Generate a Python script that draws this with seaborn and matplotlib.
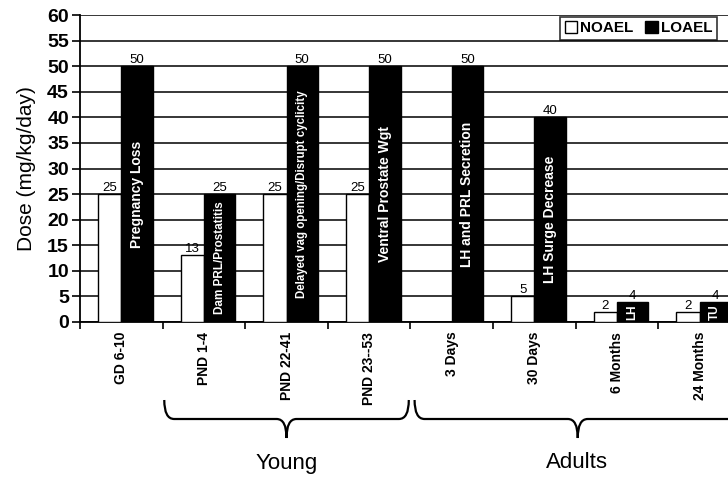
import numpy as np
import pandas as pd
import matplotlib
matplotlib.use("Agg")
import matplotlib.pyplot as plt
import seaborn as sns
from matplotlib.path import Path
from matplotlib.patches import PathPatch, Patch
from matplotlib.transforms import blended_transform_factory

categories = ["GD 6-10", "PND 1-4", "PND 22-41", "PND 23--53",
              "3 Days", "30 Days", "6 Months", "24 Months"]
noael = [25, 13, 25, 25, 0, 5, 2, 2]
loael = [50, 25, 50, 50, 50, 40, 4, 4]
noael_labels = ["25", "13", "25", "25", "", "5", "2", "2"]
loael_labels = ["50", "25", "50", "50", "50", "40", "4", "4"]
effects = ["Pregnancy Loss", "Dam PRL/Prostatitis",
           "Delayed vag opening/Disrupt cyclicity", "Ventral Prostate Wgt",
           "LH and PRL Secretion", "LH Surge Decrease", "LH", "TU"]
series = ["NOAEL", "LOAEL"]

sns.set_theme(style="white")
plt.rcParams["font.family"] = ["Liberation Sans", "DejaVu Sans"]
plt.rcParams.update({"text.color": "black", "axes.labelcolor": "black",
                     "xtick.color": "black", "ytick.color": "black"})

df = pd.DataFrame({
    "Stage": categories * 2,
    "Dose": noael + loael,
    "Level": ["NOAEL"] * len(categories) + ["LOAEL"] * len(categories),
})

fig = plt.figure(figsize=(7.28, 4.8), dpi=100)
ax = fig.add_axes([80 / 728, 1 - 322 / 480, 1 - 80 / 728 + 0.02, (322 - 15) / 480])

sns.barplot(data=df, x="Stage", y="Dose", hue="Level", order=categories,
            hue_order=series, palette={"NOAEL": "white", "LOAEL": "black"},
            width=0.68, edgecolor="black", linewidth=1.0, ax=ax, legend=False,
            zorder=3)

# NOAEL bars narrower than LOAEL bars, as in the reference
cont_no, cont_lo = ax.containers[0], ax.containers[1]
for b in cont_no:
    x0 = b.get_x()
    w = b.get_width()
    b.set_x(x0 + 0.06)
    b.set_width(w - 0.06)
for b in cont_lo:
    b.set_width(b.get_width() + 0.04)

ax.set_ylim(0, 60)
ax.set_xlim(-0.5, len(categories) - 0.5 + 0.02)
ax.set_yticks(np.arange(0, 61, 5))
ax.yaxis.grid(True, color="black", linewidth=1.1, zorder=0)
ax.xaxis.grid(False)
for s in ["top", "right"]:
    ax.spines[s].set_visible(False)
ax.spines["left"].set_color("black")
ax.spines["left"].set_linewidth(1.3)
ax.spines["bottom"].set_color("black")
ax.spines["bottom"].set_linewidth(1.3)

ax.tick_params(axis="y", length=6, width=1.2, color="black", direction="out",
               left=True, labelsize=14, pad=2)
for t in ax.get_yticklabels():
    t.set_fontweight("bold")
ax.set_ylabel("Dose (mg/kg/day)", fontsize=15, labelpad=8)
ax.set_xlabel("")
ax.set_xticks(range(len(categories)))
ax.set_xticklabels(categories, rotation=90, fontsize=10, fontweight="bold",
                   va="top")
ax.tick_params(axis="x", length=0, pad=7)
ax.set_xticks(np.arange(-0.5, len(categories), 1.0), minor=True)
ax.tick_params(axis="x", which="minor", length=5, width=1.2, color="black",
               bottom=True)

# value labels and effect labels
ax.bar_label(cont_no, labels=noael_labels, fontsize=9.5, padding=0)
ax.bar_label(cont_lo, labels=loael_labels, fontsize=9.5, padding=0)
for bar, txt, v in zip(cont_lo, effects, loael):
    cx = bar.get_x() + bar.get_width() / 2
    fs = 10 if v >= 30 else 8.5
    if len(txt) > 30:
        fs = 8.3
    ax.text(cx, v / 2, txt, rotation=90, ha="center", va="center",
            color="white", fontweight="bold", fontsize=fs, zorder=5)

# legend
handles = [Patch(facecolor="white", edgecolor="black", label="NOAEL"),
           Patch(facecolor="black", edgecolor="black", label="LOAEL")]
leg = ax.legend(handles=handles, loc="upper left",
                bbox_to_anchor=((542 - 80) / 648, (322 - 9) / 307), ncol=2,
                frameon=True, fancybox=False, edgecolor="black",
                handlelength=0.8, handleheight=0.8, handletextpad=0.2,
                columnspacing=0.8, borderpad=0.3,
                prop={"weight": "bold", "size": 11})
leg.get_frame().set_linewidth(1.2)
leg.set_zorder(10)

# braces
trans = blended_transform_factory(ax.transData, fig.transFigure)
def brace(x0, x1, ytop, ybot):
    ymid = (ytop + ybot) / 2
    xm = (x0 + x1) / 2
    d = 0.12
    verts = [(x0, ytop), (x0, ymid), (x0 + d, ymid),
             (xm - d, ymid),
             (xm, ymid), (xm, ybot),
             (xm, ymid), (xm + d, ymid),
             (x1 - d, ymid),
             (x1, ymid), (x1, ytop)]
    codes = [Path.MOVETO, Path.CURVE3, Path.CURVE3, Path.LINETO,
             Path.CURVE3, Path.CURVE3, Path.CURVE3, Path.CURVE3,
             Path.LINETO, Path.CURVE3, Path.CURVE3]
    p = PathPatch(Path(verts, codes), transform=trans, fill=False,
                  edgecolor="black", linewidth=1.6, clip_on=False)
    fig.add_artist(p)

ytop = 1 - 400 / 480
ybot = 1 - 438 / 480
brace(0.52, 3.48, ytop, ybot)
brace(3.55, 7.5, ytop, ybot)
ax.text(2.0, 1 - 463 / 480, "Young", transform=trans, ha="center",
        va="center", fontsize=16)
ax.text(5.52, 1 - 463 / 480, "Adults", transform=trans, ha="center",
        va="center", fontsize=16)

fig.savefig("out.png", dpi=100)
